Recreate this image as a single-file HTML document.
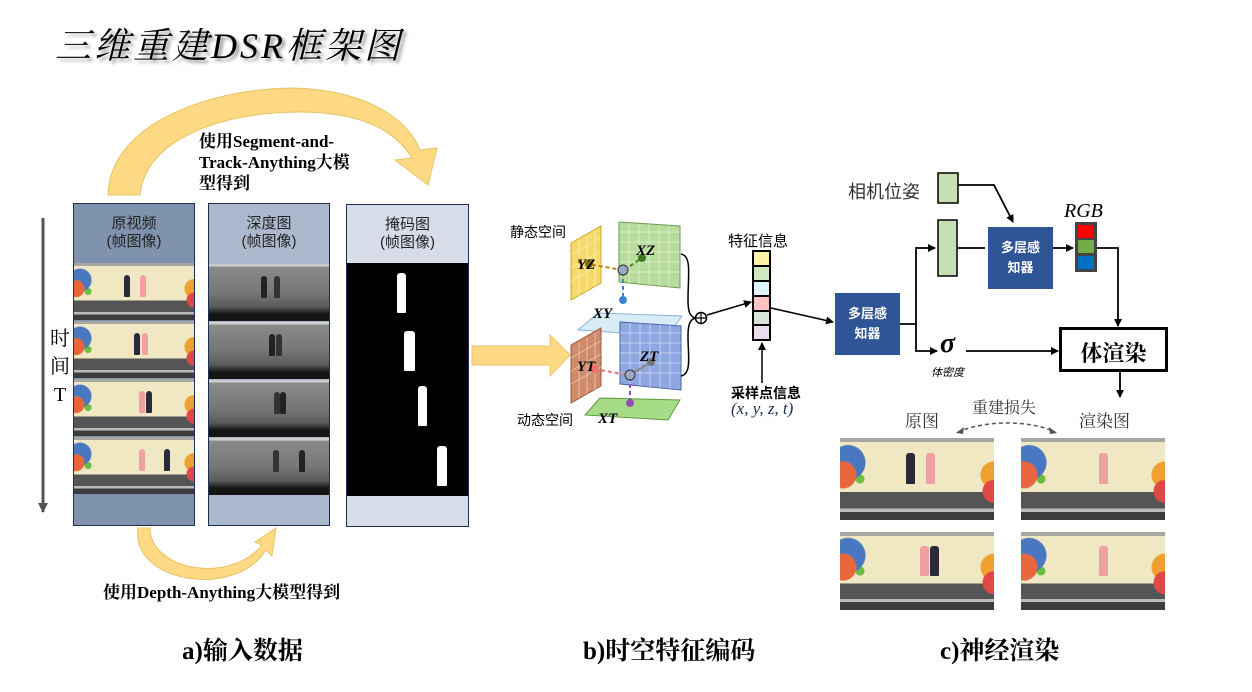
<!DOCTYPE html>
<html><head><meta charset="utf-8"><style>
*{margin:0;padding:0;box-sizing:border-box}
body{width:1252px;height:692px;background:#fff;position:relative;overflow:hidden;font-family:"Liberation Serif","Noto Serif CJK SC",serif;color:#000}
.a{position:absolute}
.ph{position:absolute;overflow:hidden;background:
radial-gradient(circle 9px at 2px 45%,#e8663c 0 8px,transparent 9px),
radial-gradient(circle 12px at 6px 30%,#4a78c0 0 11px,transparent 12px),
radial-gradient(circle 4px at 14px 50%,#6cbc40 0 3px,transparent 4px),
radial-gradient(circle 8px at 100% 65%,#e04848 0 7px,transparent 8px),
radial-gradient(circle 10px at 100% 45%,#f0a030 0 9px,transparent 10px),
linear-gradient(to bottom,#a8a6a0 0 5%,#efe8c2 5% 66%,#555 66% 86%,#bbb 86% 90%,#3c3c3c 90%)}
.ph.big{background:
radial-gradient(circle 14px at 3px 45%,#e8663c 0 13px,transparent 14px),
radial-gradient(circle 18px at 8px 30%,#4a78c0 0 17px,transparent 18px),
radial-gradient(circle 5px at 20px 50%,#6cbc40 0 4px,transparent 5px),
radial-gradient(circle 12px at 100% 65%,#e04848 0 11px,transparent 12px),
radial-gradient(circle 14px at 100% 45%,#f0a030 0 13px,transparent 14px),
linear-gradient(to bottom,#a8a6a0 0 5%,#efe8c2 5% 66%,#555 66% 86%,#bbb 86% 90%,#3c3c3c 90%)}
.dp{position:absolute;background:linear-gradient(to bottom,#ccc 0 4%,#8a8a8a 5%,#777 50%,#5a5a5a 75%,#151515 88%)}
.fg{position:absolute;width:6px;height:38%;border-radius:3px 3px 1px 1px}
.cn{font-family:"Liberation Sans","Noto Sans CJK SC",sans-serif}
.mlp{position:absolute;background:#2f5597;color:#fff;font-family:"Liberation Sans","Noto Sans CJK SC",sans-serif;font-size:13px;font-weight:bold;text-align:center;line-height:20px;display:flex;align-items:center;justify-content:center}
.hd{position:absolute;text-align:center;font-family:"Liberation Sans","Noto Sans CJK SC",sans-serif;font-size:15px;line-height:18px;color:#222}
</style></head><body>

<div class="a" style="left:55px;top:18px;font-size:36px;font-style:italic;letter-spacing:3px;text-shadow:3px 3px 3px #999;font-family:'Liberation Serif','Noto Serif CJK SC',serif">三维重建DSR框架图</div>

<svg class="a" style="left:0;top:0" width="1252" height="692">
<defs>
<marker id="ar" markerWidth="8" markerHeight="8" refX="7" refY="4" orient="auto" markerUnits="userSpaceOnUse"><path d="M0,0 L8,4 L0,8 z" fill="#000"/></marker>
<marker id="ar2" markerWidth="10" markerHeight="10" refX="9" refY="5" orient="auto" markerUnits="userSpaceOnUse"><path d="M0,0 L10,5 L0,10 z" fill="#555"/></marker>
</defs>
<path d="M108,195 C110,110 250,80 320,90 C380,98 410,125 420,150 L437,148 L428,185 L395,160 L412,158 C395,130 360,112 300,112 C220,112 145,140 140,195 Z" fill="#fcd982" stroke="#e8c466" stroke-width="1"/>
<path d="M150,528 C150,570 230,585 262,545 L255,542 L276,528 L272,556 L266,550 C235,600 130,582 138,528 Z" fill="#fcd982" stroke="#e8c466"/>
<path d="M472,346 L550,346 L550,335 L570,355 L550,376 L550,365 L472,365 Z" fill="#fcd982" stroke="#e8c466"/>
<line x1="43" y1="218" x2="43" y2="512" stroke="#555" stroke-width="3" marker-end="url(#ar2)"/>

<polygon points="571,243 601,226 601,283 571,300" fill="#f6d96a" stroke="#c9a62a"/>
<polygon points="619,222 680,226 680,288 619,282" fill="#b8dc9c" stroke="#6a9a50"/>
<polygon points="578,330 598,313 682,316 668,336" fill="#d8ecf8" stroke="#8ab4d4"/>
<polygon points="571,345 601,328 601,386 571,403" fill="#d08a6a" stroke="#9a5a3a"/>
<polygon points="620,322 681,326 681,390 620,384" fill="#8fa6e0" stroke="#4a64a8"/>
<polygon points="585,415 600,398 680,400 668,420" fill="#a6dc88" stroke="#5a9a40"/>
<g stroke="#fff" stroke-opacity=".45" stroke-width="1">
<path d="M579,240V296M587,236V292M595,231V288M571,255L601,238M571,268L601,251M571,281L601,264"/>
<path d="M629,223V283M639,224V284M649,224V285M659,225V286M669,225V287M619,232H680M619,242H680M619,252H680M619,262H680M619,272H680"/>
<path d="M579,342V398M587,338V394M595,333V390M571,358L601,341M571,371L601,354M571,384L601,367"/>
<path d="M630,323V385M640,323V386M650,324V387M660,325V388M670,325V389M620,333H681M620,343H681M620,353H681M620,363H681M620,373H681"/>
</g>
<line x1="578" y1="262" x2="622" y2="270" stroke="#b08a10" stroke-width="2" stroke-dasharray="4,3"/>
<line x1="624" y1="270" x2="642" y2="258" stroke="#4a8a30" stroke-width="2" stroke-dasharray="4,3"/>
<line x1="623" y1="272" x2="623" y2="300" stroke="#3a86c8" stroke-width="2" stroke-dasharray="4,3"/>
<line x1="594" y1="369" x2="628" y2="375" stroke="#f07070" stroke-width="2" stroke-dasharray="4,3"/>
<line x1="630" y1="375" x2="651" y2="362" stroke="#888" stroke-width="2"/>
<line x1="630" y1="377" x2="630" y2="403" stroke="#9050b0" stroke-width="2" stroke-dasharray="4,3"/>
<circle cx="589" cy="264" r="4" fill="#8a6a10"/><circle cx="642" cy="258" r="4" fill="#3a7a20"/><circle cx="623" cy="300" r="4" fill="#3a86c8"/>
<circle cx="594" cy="369" r="4" fill="#f07070"/><circle cx="651" cy="362" r="4" fill="#777"/><circle cx="630" cy="403" r="4" fill="#9050b0"/>
<circle cx="623" cy="270" r="5" fill="#9aaac0" stroke="#333"/><circle cx="630" cy="375" r="5" fill="#9aaac0" stroke="#333"/>
<g font-family="Liberation Serif" font-style="italic" font-weight="bold" font-size="15">
<text x="577" y="269">YZ</text><text x="636" y="255">XZ</text><text x="593" y="318">XY</text>
<text x="577" y="371">YT</text><text x="640" y="361">ZT</text><text x="598" y="423">XT</text></g>
<path d="M681,254 C692,256 688,275 688,300 C688,312 690,316 695,318" fill="none" stroke="#000" stroke-width="1.5"/>
<path d="M681,376 C692,374 688,355 688,336 C688,324 690,320 695,318" fill="none" stroke="#000" stroke-width="1.5"/>
<circle cx="701" cy="318" r="5.5" fill="#fff" stroke="#000" stroke-width="1.5"/>
<path d="M695.5,318H706.5M701,312.5V323.5" stroke="#000" stroke-width="1.2"/>
<line x1="707" y1="315" x2="751" y2="302" stroke="#000" stroke-width="1.5" marker-end="url(#ar)"/>
<rect x="752" y="250" width="19" height="91" fill="#000"/>
<rect x="754" y="252" width="15" height="13" fill="#fff2a6"/><rect x="754" y="267" width="15" height="13" fill="#d0e8c0"/>
<rect x="754" y="282" width="15" height="13" fill="#dff3fb"/><rect x="754" y="297" width="15" height="13" fill="#ffc2c2"/>
<rect x="754" y="312" width="15" height="12" fill="#d5e3da"/><rect x="754" y="326" width="15" height="13" fill="#ebdcf0"/>
<line x1="762" y1="383" x2="762" y2="343" stroke="#000" stroke-width="1.5" marker-end="url(#ar)"/>
<line x1="771" y1="308" x2="833" y2="322" stroke="#000" stroke-width="1.5" marker-end="url(#ar)"/>

<g stroke="#000" stroke-width="1.8" fill="none">
<path d="M900,324H916V248H935" marker-end="url(#ar)"/>
<path d="M916,324V351H937" marker-end="url(#ar)"/>
<path d="M958,248H985"/>
<path d="M958,185H994L1013,222" marker-end="url(#ar)"/>
<path d="M1053,248H1073" marker-end="url(#ar)"/>
<path d="M1097,248H1118V326" marker-end="url(#ar)"/>
<path d="M966,351H1058" marker-end="url(#ar)"/>
<path d="M1120,371V397" marker-end="url(#ar)"/>
</g>
<rect x="938" y="173" width="20" height="30" fill="#c5e0b4" stroke="#000" stroke-width="1.5"/>
<rect x="938" y="220" width="19" height="56" fill="#c5e0b4" stroke="#000" stroke-width="1.5"/>
<rect x="1075" y="222" width="22" height="50" fill="#444"/>
<rect x="1078" y="225" width="16" height="13" fill="#f00"/><rect x="1078" y="240" width="16" height="13" fill="#70ad47"/><rect x="1078" y="256" width="16" height="13" fill="#0070c0"/>
<rect x="1060.5" y="328.5" width="106" height="42" fill="#fff" stroke="#000" stroke-width="3"/>
<path d="M958,432 C985,420 1030,420 1055,432" fill="none" stroke="#555" stroke-width="1.5" stroke-dasharray="4,3"/>
<path d="M956,433 l8,-6 l-1,7z M1057,433 l-8,-6 l1,7z" fill="#555"/>
</svg>

<div class="a" style="left:73px;top:203px;width:122px;height:323px;background:#7f92ae;border:1.5px solid #1f2f4f"></div>
<div class="hd" style="left:73px;top:215px;width:122px">原视频<br>(帧图像)</div>
<div class="ph" style="left:74px;top:263px;width:120px;height:57px"><div class="fg" style="left:50px;top:12px;background:#2a2a3a"></div><div class="fg" style="left:66px;top:12px;background:#f0a0a0"></div></div>
<div class="ph" style="left:74px;top:321px;width:120px;height:57px"><div class="fg" style="left:60px;top:12px;background:#2a2a3a"></div><div class="fg" style="left:68px;top:12px;background:#f0a0a0"></div></div>
<div class="ph" style="left:74px;top:379px;width:120px;height:57px"><div class="fg" style="left:65px;top:12px;background:#f0a0a0"></div><div class="fg" style="left:72px;top:12px;background:#2a2a3a"></div></div>
<div class="ph" style="left:74px;top:437px;width:120px;height:57px"><div class="fg" style="left:65px;top:12px;background:#f0a0a0"></div><div class="fg" style="left:90px;top:12px;background:#2a2a3a"></div></div>

<div class="a" style="left:208px;top:203px;width:122px;height:323px;background:#acb9cd;border:1.5px solid #1f2f4f"></div>
<div class="hd" style="left:208px;top:215px;width:122px">深度图<br>(帧图像)</div>
<div class="dp" style="left:209px;top:264px;width:120px;height:57px"><div class="fg" style="left:52px;top:12px;background:#222"></div><div class="fg" style="left:65px;top:12px;background:#333"></div></div>
<div class="dp" style="left:209px;top:322px;width:120px;height:57px"><div class="fg" style="left:60px;top:12px;background:#222"></div><div class="fg" style="left:67px;top:12px;background:#333"></div></div>
<div class="dp" style="left:209px;top:380px;width:120px;height:57px"><div class="fg" style="left:65px;top:12px;background:#333"></div><div class="fg" style="left:71px;top:12px;background:#222"></div></div>
<div class="dp" style="left:209px;top:438px;width:120px;height:57px"><div class="fg" style="left:64px;top:12px;background:#333"></div><div class="fg" style="left:90px;top:12px;background:#222"></div></div>

<div class="a" style="left:346px;top:204px;width:123px;height:323px;background:#d6dde8;border:1.5px solid #1f2f4f"></div>
<div class="hd" style="left:346px;top:216px;width:123px">掩码图<br>(帧图像)</div>
<div class="a" style="left:347px;top:263px;width:121px;height:233px;background:#000">
<div class="fg" style="left:50px;top:10px;width:9px;height:40px;background:#fff"></div>
<div class="fg" style="left:57px;top:68px;width:11px;height:40px;background:#fff"></div>
<div class="fg" style="left:71px;top:123px;width:9px;height:40px;background:#fff"></div>
<div class="fg" style="left:90px;top:183px;width:10px;height:40px;background:#fff"></div>
</div>

<div class="a" style="left:49px;top:325px;font-size:20px;line-height:28px;width:22px;text-align:center">时<br>间<br>T</div>

<div class="a" style="left:199px;top:131px;font-size:17px;font-weight:bold;line-height:21px;width:200px">使用Segment-and-<br>Track-Anything大模<br>型得到</div>
<div class="a" style="left:103px;top:578px;font-size:17px;font-weight:bold">使用Depth-Anything大模型得到</div>

<div class="a cn" style="left:510px;top:222px;font-size:14px">静态空间</div>
<div class="a cn" style="left:517px;top:410px;font-size:14px">动态空间</div>
<div class="a cn" style="left:728px;top:230px;font-size:15px">特征信息</div>
<div class="a cn" style="left:731px;top:383px;font-size:14px;font-weight:bold">采样点信息</div>
<div class="a" style="left:731px;top:399px;font-size:17px;font-style:italic;color:#1f2f4f">(x, y, z, t)</div>

<div class="mlp" style="left:835px;top:293px;width:65px;height:62px">多层感<br>知器</div>
<div class="mlp" style="left:988px;top:227px;width:65px;height:62px">多层感<br>知器</div>
<div class="a cn" style="left:848px;top:178px;font-size:18px;color:#333">相机位姿</div>
<div class="a" style="left:1064px;top:200px;font-size:20px;font-style:italic">RGB</div>
<div class="a" style="left:940px;top:328px;font-size:28px;font-style:italic;font-weight:bold">σ</div>
<div class="a cn" style="left:931px;top:364px;font-size:11px;font-style:italic">体密度</div>
<div class="a" style="left:1060px;top:337px;width:107px;text-align:center;font-size:22px;font-weight:bold">体渲染</div>
<div class="a" style="left:905px;top:407px;font-size:17px;color:#333">原图</div>
<div class="a" style="left:972px;top:395px;font-size:16px;color:#333">重建损失</div>
<div class="a" style="left:1079px;top:407px;font-size:17px;color:#333">渲染图</div>

<div class="ph big" style="left:840px;top:438px;width:154px;height:82px"><div class="fg" style="left:66px;top:15px;width:9px;background:#2a2a3a"></div><div class="fg" style="left:86px;top:15px;width:9px;background:#f0a0a0"></div></div>
<div class="ph big" style="left:1021px;top:438px;width:144px;height:82px"><div class="fg" style="left:78px;top:15px;width:9px;background:#f0a0a0"></div></div>
<div class="ph big" style="left:840px;top:532px;width:154px;height:78px"><div class="fg" style="left:80px;top:14px;width:9px;background:#f0a0a0"></div><div class="fg" style="left:90px;top:14px;width:9px;background:#2a2a3a"></div></div>
<div class="ph big" style="left:1021px;top:532px;width:144px;height:78px"><div class="fg" style="left:78px;top:14px;width:9px;background:#f0a0a0"></div></div>

<div class="a" style="left:182px;top:631px;font-size:25px;font-weight:bold">a)输入数据</div>
<div class="a" style="left:583px;top:631px;font-size:25px;font-weight:bold">b)时空特征编码</div>
<div class="a" style="left:940px;top:631px;font-size:25px;font-weight:bold">c)神经渲染</div>
</body></html>
